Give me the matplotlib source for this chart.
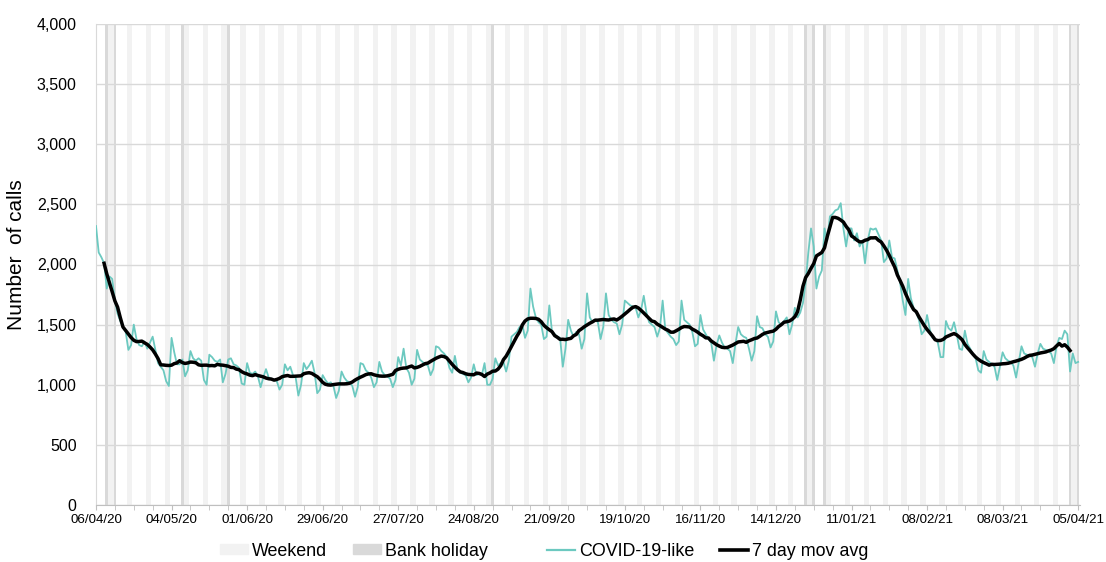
#!/usr/bin/env python3
"""Daily COVID-19-like calls with a 7 day moving average.

Weekends and bank holidays are shaded as full-height bars behind the lines.
"""
import matplotlib

matplotlib.use("Agg")
import matplotlib.dates as mdates
import matplotlib.pyplot as plt
import pandas as pd
from matplotlib.lines import Line2D
from matplotlib.patches import Patch
from matplotlib.ticker import FixedLocator, FuncFormatter, MultipleLocator

START_DATE = "2020-04-06"

# daily calls, one row per week (Mon..Sun)
calls_by_week = [
    [2320, 2100, 2060, 2010, 1800, 1900, 1880],
    [1700, 1590, 1530, 1480, 1440, 1290, 1330],
    [1500, 1380, 1330, 1320, 1360, 1300, 1350],
    [1400, 1290, 1180, 1150, 1120, 1030, 990],
    [1390, 1270, 1170, 1170, 1210, 1070, 1120],
    [1280, 1220, 1200, 1220, 1200, 1040, 1000],
    [1250, 1230, 1200, 1190, 1210, 1020, 1090],
    [1210, 1220, 1170, 1160, 1140, 1010, 1000],
    [1180, 1100, 1090, 1110, 1070, 980, 1060],
    [1130, 1060, 1050, 1040, 1030, 960, 1000],
    [1170, 1120, 1150, 1080, 1060, 910, 1000],
    [1180, 1130, 1160, 1200, 1100, 930, 960],
    [1080, 1040, 1010, 1020, 990, 890, 950],
    [1110, 1060, 1030, 1020, 990, 900, 980],
    [1180, 1170, 1120, 1100, 1060, 980, 1020],
    [1190, 1110, 1080, 1070, 1050, 980, 1040],
    [1230, 1160, 1300, 1140, 1100, 1000, 1050],
    [1290, 1210, 1190, 1170, 1160, 1080, 1130],
    [1320, 1310, 1280, 1260, 1230, 1140, 1100],
    [1240, 1120, 1100, 1090, 1080, 1020, 1060],
    [1170, 1080, 1090, 1080, 1180, 1000, 1000],
    [1050, 1220, 1160, 1180, 1190, 1110, 1200],
    [1400, 1420, 1440, 1480, 1500, 1390, 1450],
    [1800, 1650, 1560, 1520, 1500, 1380, 1400],
    [1660, 1440, 1420, 1400, 1390, 1150, 1300],
    [1540, 1450, 1400, 1440, 1420, 1300, 1380],
    [1760, 1560, 1520, 1540, 1520, 1380, 1480],
    [1760, 1580, 1540, 1520, 1510, 1420, 1500],
    [1700, 1680, 1660, 1650, 1640, 1560, 1620],
    [1740, 1600, 1520, 1500, 1480, 1400, 1470],
    [1700, 1460, 1430, 1400, 1380, 1330, 1360],
    [1700, 1540, 1520, 1500, 1440, 1320, 1340],
    [1580, 1460, 1420, 1380, 1350, 1200, 1330],
    [1410, 1350, 1310, 1300, 1280, 1180, 1340],
    [1480, 1420, 1400, 1390, 1300, 1200, 1280],
    [1570, 1480, 1470, 1420, 1400, 1310, 1360],
    [1610, 1520, 1500, 1530, 1560, 1420, 1500],
    [1640, 1560, 1600, 1680, 1850, 2100, 2300],
    [2150, 1800, 1900, 1950, 2300, 2200, 2400],
    [2420, 2450, 2460, 2510, 2300, 2150, 2300],
    [2300, 2200, 2260, 2150, 2200, 2010, 2200],
    [2300, 2290, 2300, 2250, 2200, 2020, 2050],
    [2200, 2060, 2050, 1950, 1850, 1700, 1580],
    [1880, 1720, 1640, 1600, 1540, 1420, 1450],
    [1580, 1460, 1390, 1380, 1350, 1230, 1230],
    [1530, 1470, 1450, 1520, 1420, 1300, 1290],
    [1450, 1340, 1300, 1250, 1220, 1120, 1100],
    [1280, 1210, 1190, 1170, 1150, 1040, 1150],
    [1270, 1220, 1200, 1190, 1160, 1060, 1190],
    [1320, 1260, 1250, 1240, 1230, 1150, 1260],
    [1340, 1300, 1290, 1280, 1260, 1180, 1320],
    [1390, 1380, 1450, 1420, 1110, 1260, 1180],
    [1190],
]

bank_holidays = [
    "10/04/20", "13/04/20", "08/05/20", "25/05/20", "31/08/20",
    "25/12/20", "28/12/20", "01/01/21", "02/04/21", "05/04/21",
]

x_tick_labels = [
    "06/04/20", "04/05/20", "01/06/20", "29/06/20", "27/07/20",
    "24/08/20", "21/09/20", "19/10/20", "16/11/20", "14/12/20",
    "11/01/21", "08/02/21", "08/03/21", "05/04/21",
]

Y_MAX = 4000
Y_STEP = 500

WEEKEND_COLOR = "#f2f2f2"
HOLIDAY_COLOR = "#d9d9d9"
CALLS_COLOR = "#6cc9c0"
GRID_COLOR = "#d9d9d9"
W, H = 1106, 562


def build_frame() -> pd.DataFrame:
    calls = [v for week in calls_by_week for v in week]
    dates = pd.date_range(START_DATE, periods=len(calls), freq="D")
    df = pd.DataFrame({"date": dates, "calls": calls})
    df["mov_avg"] = df["calls"].rolling(7, center=True).mean()
    return df


def main() -> None:
    plt.rcParams["font.family"] = ["Liberation Sans", "DejaVu Sans"]
    df = build_frame()

    fig = plt.figure(figsize=(W / 100, H / 100), dpi=100)
    ax = fig.add_axes([96 / W, 1 - 505 / H, 983.5 / W, 481 / H])

    weekends = df.loc[df["date"].dt.dayofweek >= 5, "date"]
    holidays = pd.to_datetime(bank_holidays, format="%d/%m/%y")
    ax.bar(weekends, Y_MAX, width=1.0, color=WEEKEND_COLOR, zorder=0.1)
    ax.bar(holidays, Y_MAX, width=1.0, color=HOLIDAY_COLOR, zorder=0.2)

    ax.plot(df["date"], df["calls"], color=CALLS_COLOR, lw=1.3, zorder=3)
    ax.plot(df["date"], df["mov_avg"], color="black", lw=2.5, zorder=4)

    ax.set_ylim(0, Y_MAX)
    ax.yaxis.set_major_locator(MultipleLocator(Y_STEP))
    ax.yaxis.set_major_formatter(FuncFormatter(lambda v, _: f"{v:,.0f}"))
    ax.grid(axis="y", color=GRID_COLOR, lw=1.0)
    ax.set_axisbelow(True)

    x0 = df["date"].iloc[0]
    x1 = df["date"].iloc[-1] + pd.Timedelta(hours=12)
    ax.set_xlim(x0, x1)
    ax.set_xticks(pd.to_datetime(x_tick_labels, format="%d/%m/%y"))
    ax.set_xticklabels(x_tick_labels)
    ax.xaxis.set_minor_locator(
        FixedLocator(mdates.date2num(pd.date_range(x0, x1, freq="7D")))
    )

    ax.tick_params(axis="x", which="both", length=3.5, color="#bfbfbf",
                   labelsize=9.6, pad=3)
    ax.tick_params(axis="y", length=0, labelsize=11.5, pad=14)

    for side in ("top", "right"):
        ax.spines[side].set_visible(False)
    ax.spines["left"].set_color(GRID_COLOR)
    ax.spines["bottom"].set_color("#bfbfbf")

    ax.set_ylabel("Number  of calls", fontsize=15)
    ax.yaxis.set_label_coords(-0.071, 0.52)

    # two legend groups, placed where the original puts them
    leg_kw = dict(loc="center left", ncol=2, frameon=False, fontsize=12.9,
                  handlelength=1.56, handleheight=0.45, handletextpad=0.22,
                  columnspacing=1.45, borderpad=0, borderaxespad=0)
    fig.legend([Patch(color=WEEKEND_COLOR), Patch(color=HOLIDAY_COLOR)],
               ["Weekend", "Bank holiday"],
               bbox_to_anchor=(220 / W, 1 - 551 / H), **leg_kw)
    fig.legend([Line2D([], [], color=CALLS_COLOR, lw=1.6),
                Line2D([], [], color="black", lw=2.6)],
               ["COVID-19-like", "7 day mov avg"],
               bbox_to_anchor=(547 / W, 1 - 551 / H), **leg_kw)

    fig.savefig("out.png", dpi=100)
    plt.close(fig)


if __name__ == "__main__":
    main()
